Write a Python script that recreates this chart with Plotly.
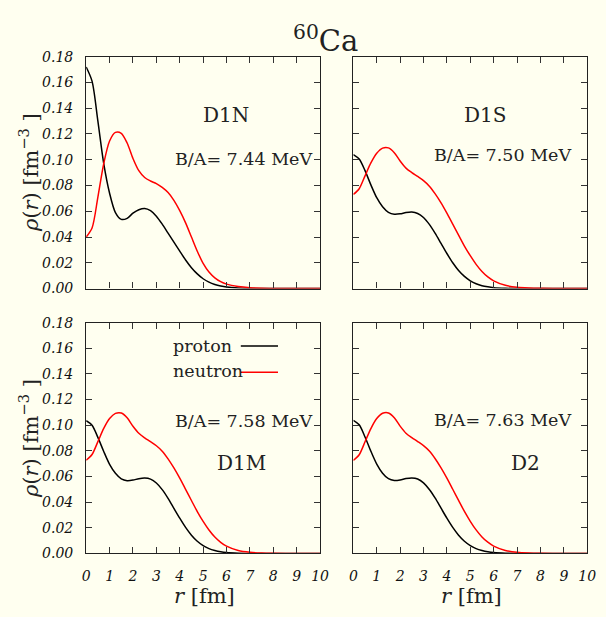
import plotly.graph_objects as go

# ---------------- data ----------------
r = [0, 0.25, 0.5, 0.75, 1, 1.25, 1.5, 1.75, 2, 2.25, 2.5, 2.75, 3, 3.25, 3.5, 3.75,
     4, 4.25, 4.5, 4.75, 5, 5.25, 5.5, 5.75, 6, 6.5, 7, 7.5, 8, 9, 10]

d1n_proton = [0.172, 0.161, 0.130, 0.097, 0.074, 0.059, 0.0537, 0.0545, 0.0585, 0.0612,
              0.0622, 0.0605, 0.0562, 0.0500, 0.0430, 0.0360, 0.0290, 0.0222, 0.0162,
              0.0114, 0.0076, 0.0050, 0.0032, 0.0020, 0.0012, 0.0004, 0.00012, 0.00003,
              0, 0, 0]
d1n_neutron = [0.040, 0.047, 0.071, 0.097, 0.1145, 0.1212, 0.1205, 0.1130, 0.1010, 0.0915,
               0.0862, 0.0835, 0.0815, 0.0785, 0.0745, 0.0685, 0.0605, 0.0510, 0.0400,
               0.0290, 0.0195, 0.0128, 0.0083, 0.0053, 0.0034, 0.0015, 0.0006, 0.00025,
               0.0001, 0.00001, 0]

d1s_proton = [0.104, 0.1005, 0.0915, 0.0805, 0.0705, 0.0635, 0.0592, 0.0577, 0.0580, 0.0590,
              0.0594, 0.0583, 0.0552, 0.0498, 0.0428, 0.0350, 0.0272, 0.0200, 0.0140,
              0.0094, 0.0060, 0.0037, 0.0022, 0.0013, 0.0007, 0.0002, 0.00005, 0,
              0, 0, 0]
d1s_neutron = [0.073, 0.0775, 0.0875, 0.0975, 0.1050, 0.1090, 0.1092, 0.1055, 0.0990, 0.0935,
               0.0900, 0.0870, 0.0838, 0.0795, 0.0735, 0.0665, 0.0585, 0.0500, 0.0415,
               0.0330, 0.0255, 0.0188, 0.0132, 0.0090, 0.0060, 0.0025, 0.0010, 0.0004,
               0.00015, 0.00002, 0]

d1m_proton = [0.1035, 0.1000, 0.0905, 0.0795, 0.0695, 0.0625, 0.0582, 0.0568, 0.0572, 0.0583,
              0.0588, 0.0580, 0.0550, 0.0498, 0.0430, 0.0352, 0.0275, 0.0203, 0.0142,
              0.0095, 0.0061, 0.0038, 0.0023, 0.0013, 0.0007, 0.0002, 0.00005, 0,
              0, 0, 0]
d1m_neutron = [0.0727, 0.0772, 0.0872, 0.0975, 0.1052, 0.1092, 0.1095, 0.1058, 0.0992, 0.0937,
               0.0902, 0.0872, 0.0840, 0.0798, 0.0738, 0.0667, 0.0587, 0.0500, 0.0413,
               0.0327, 0.0250, 0.0183, 0.0128, 0.0087, 0.0057, 0.0023, 0.0009, 0.0003,
               0.0001, 0.00001, 0]

d2_proton = [0.1038, 0.1003, 0.0908, 0.0797, 0.0697, 0.0626, 0.0583, 0.0569, 0.0573, 0.0584,
             0.0589, 0.0581, 0.0551, 0.0499, 0.0431, 0.0353, 0.0275, 0.0203, 0.0142,
             0.0095, 0.0061, 0.0038, 0.0023, 0.0013, 0.0007, 0.0002, 0.00005, 0,
             0, 0, 0]
d2_neutron = [0.0725, 0.0770, 0.0871, 0.0974, 0.1052, 0.1093, 0.1096, 0.1059, 0.0993, 0.0938,
              0.0903, 0.0873, 0.0841, 0.0799, 0.0739, 0.0668, 0.0588, 0.0501, 0.0414,
              0.0328, 0.0251, 0.0184, 0.0129, 0.0088, 0.0058, 0.0024, 0.0009, 0.0003,
              0.0001, 0.00001, 0]

panel_names = ["D1N", "D1S", "D1M", "D2"]
binding = ["7.44", "7.50", "7.58", "7.63"]
protons = [d1n_proton, d1s_proton, d1m_proton, d2_proton]
neutrons = [d1n_neutron, d1s_neutron, d1m_neutron, d2_neutron]

x_ticks = list(range(0, 11))
y_ticks = [0.00, 0.02, 0.04, 0.06, 0.08, 0.10, 0.12, 0.14, 0.16, 0.18]

# ---------------- layout ----------------
W, H = 606, 617
BG = "#fffff0"
FONT = "DejaVu Serif"

def px(x):
    return x / W

def py(y):
    return 1 - y / H

# panel pixel boxes (left, right, top, bottom)
boxes = [(84, 323, 50, 288), (357, 596, 50, 288),
         (84, 323, 323, 560), (357, 596, 323, 560)]

fig = go.Figure()

for i in range(4):
    xa = "x" if i == 0 else f"x{i+1}"
    ya = "y" if i == 0 else f"y{i+1}"
    fig.add_trace(go.Scatter(x=r, y=protons[i], mode="lines", xaxis=xa, yaxis=ya,
                             line=dict(color="black", width=1.5, shape="spline", smoothing=0.8),
                             showlegend=False, name="proton"))
    fig.add_trace(go.Scatter(x=r, y=neutrons[i], mode="lines", xaxis=xa, yaxis=ya,
                             line=dict(color="#ff0000", width=1.5, shape="spline", smoothing=0.8),
                             showlegend=False, name="neutron"))

layout = dict(width=W, height=H, margin=dict(l=0, r=0, t=0, b=0),
              paper_bgcolor=BG, plot_bgcolor=BG,
              font=dict(family=FONT, color="black"))

tickfont = dict(family=FONT, size=14, color="#111", style="italic")

for i, (l, rr, t, b) in enumerate(boxes):
    xk = "xaxis" if i == 0 else f"xaxis{i+1}"
    yk = "yaxis" if i == 0 else f"yaxis{i+1}"
    ya_name = "y" if i == 0 else f"y{i+1}"
    xa_name = "x" if i == 0 else f"x{i+1}"
    layout[xk] = dict(domain=[px(l), px(rr)], range=[0, 10], anchor=ya_name,
                      tickmode="array", tickvals=x_ticks, ticktext=[str(v) for v in x_ticks],
                      ticks="inside", ticklen=6, tickwidth=1, tickcolor="#333",
                      showline=True, linecolor="#222", linewidth=1.3, mirror="ticks",
                      showgrid=False, zeroline=False,
                      showticklabels=(i >= 2), tickfont=tickfont, ticklabelstandoff=10)
    layout[yk] = dict(domain=[py(b), py(t)], range=[0, 0.18], anchor=xa_name,
                      tickmode="array", tickvals=y_ticks, ticktext=[f"{v:.2f}" for v in y_ticks],
                      ticks="inside", ticklen=6, tickwidth=1, tickcolor="#333",
                      showline=True, linecolor="#222", linewidth=1.3, mirror="ticks",
                      showgrid=False, zeroline=False,
                      showticklabels=(i % 2 == 0), tickfont=tickfont, ticklabelstandoff=9)

fig.update_layout(**layout)

ann = []
def text(x, y, s, size, xanchor="center", angle=0):
    ann.append(dict(x=px(x), y=py(y), xref="paper", yref="paper", text=s, showarrow=False,
                    xanchor=xanchor, yanchor="middle", textangle=angle,
                    font=dict(family=FONT, size=size, color="#222")))

# title
text(329, 32, "<sup>60</sup>Ca", 29)
# panel labels
name_pos = [(227, 110), (492, 110), (243, 467), (533, 467)]
ba_pos = [(245, 155), (509, 151), (245, 424), (509, 423)]
for i in range(4):
    text(name_pos[i][0], name_pos[i][1], panel_names[i], 20)
    text(ba_pos[i][0], ba_pos[i][1], f"B/A= {binding[i]} MeV", 17.5)

# axis titles
ylabel = "<i>ρ</i>(<i>r</i>) [fm<sup>−3</sup> ]"
text(25, 169, ylabel, 21, angle=-90)
text(25, 442, ylabel, 21, angle=-90)
text(205, 604, "<i>r</i> [fm]", 21)
text(478, 604, "<i>r</i> [fm]", 21)

# legend
text(171, 347, "proton", 17.5, xanchor="left")
text(171, 373, "neutron", 17.5, xanchor="left")
shapes = [dict(type="line", xref="paper", yref="paper", x0=px(242), x1=px(280), y0=py(347), y1=py(347),
               line=dict(color="black", width=1.5)),
          dict(type="line", xref="paper", yref="paper", x0=px(242), x1=px(280), y0=py(374), y1=py(374),
               line=dict(color="#ff0000", width=1.5))]

fig.update_layout(annotations=ann, shapes=shapes)
fig.write_html("out.html")
